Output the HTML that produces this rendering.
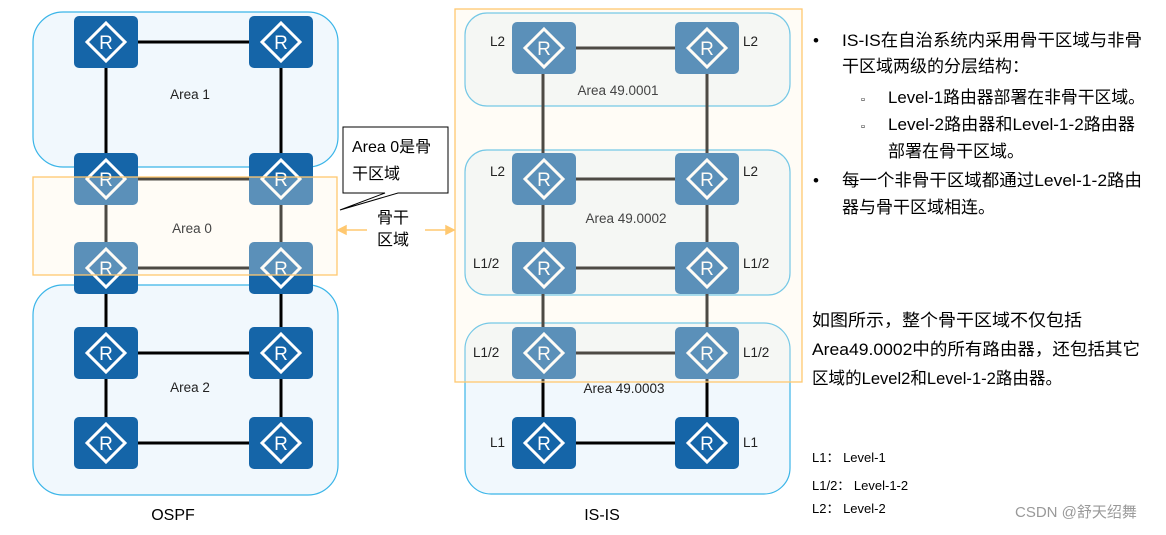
<!DOCTYPE html>
<html><head><meta charset="utf-8"><style>
body{margin:0;background:#fff;}
svg text{font-family:"Liberation Sans","Noto Sans CJK SC",sans-serif;}
</style></head><body>
<svg width="1166" height="530" viewBox="0 0 1166 530" xmlns="http://www.w3.org/2000/svg">
<defs>
<g id="r">
<rect x="0" y="0" width="64" height="52" rx="5" fill="#1565a8"/>
<polygon points="32,7 51,26 32,45 13,26" fill="none" stroke="#fff" stroke-width="3"/>
<text x="32" y="33" font-size="19" fill="#fff" text-anchor="middle">R</text>
</g>
</defs>
<rect x="33" y="12" width="305" height="155" rx="30" fill="#f1f8fd" stroke="#3bb5e8" stroke-width="1.2"/>
<rect x="33" y="285" width="305" height="210" rx="30" fill="#f1f8fd" stroke="#3bb5e8" stroke-width="1.2"/>
<rect x="465" y="13" width="325" height="93" rx="22" fill="#f1f8fd" stroke="#3bb5e8" stroke-width="1.2"/>
<rect x="465" y="150" width="325" height="145" rx="22" fill="#f1f8fd" stroke="#3bb5e8" stroke-width="1.2"/>
<rect x="465" y="323" width="325" height="171" rx="26" fill="#f1f8fd" stroke="#3bb5e8" stroke-width="1.2"/>
<g stroke="#000" stroke-width="3">
<line x1="106" y1="42" x2="281" y2="42"/><line x1="106" y1="179" x2="281" y2="179"/>
<line x1="106" y1="268" x2="281" y2="268"/><line x1="106" y1="353" x2="281" y2="353"/><line x1="106" y1="443" x2="281" y2="443"/>
<line x1="106" y1="42" x2="106" y2="443"/><line x1="281" y1="42" x2="281" y2="443"/>
<line x1="543" y1="48" x2="707" y2="48"/><line x1="543" y1="179" x2="707" y2="179"/>
<line x1="543" y1="268" x2="707" y2="268"/><line x1="543" y1="353" x2="707" y2="353"/><line x1="543" y1="443" x2="707" y2="443"/>
<line x1="543" y1="48" x2="543" y2="443"/><line x1="707" y1="48" x2="707" y2="179"/>
<line x1="707" y1="179" x2="707" y2="268"/><line x1="707" y1="270" x2="707" y2="443"/>
</g>
<use href="#r" x="74" y="16"/><use href="#r" x="249" y="16"/>
<use href="#r" x="74" y="153"/><use href="#r" x="249" y="153"/>
<use href="#r" x="74" y="242"/><use href="#r" x="249" y="242"/>
<use href="#r" x="74" y="327"/><use href="#r" x="249" y="327"/>
<use href="#r" x="74" y="417"/><use href="#r" x="249" y="417"/>
<use href="#r" x="512" y="22"/><use href="#r" x="675" y="22"/>
<use href="#r" x="512" y="153"/><use href="#r" x="675" y="153"/>
<use href="#r" x="512" y="242"/><use href="#r" x="675" y="242"/>
<use href="#r" x="512" y="327"/><use href="#r" x="675" y="327"/>
<use href="#r" x="512" y="417"/><use href="#r" x="675" y="417"/>
<rect x="33" y="177" width="304" height="98" fill="rgba(255,245,225,0.3)" stroke="#ffc870" stroke-width="1.3"/>
<rect x="455" y="9" width="347" height="373" fill="rgba(255,245,225,0.3)" stroke="#ffc870" stroke-width="1.3"/>
<g font-size="13.5" fill="#222" text-anchor="middle">
<text x="190" y="99">Area 1</text>
<text x="192" y="233" fill="#444">Area 0</text>
<text x="190" y="392">Area 2</text>
<text x="618" y="95" fill="#444">Area 49.0001</text>
<text x="626" y="223" fill="#444">Area 49.0002</text>
<text x="624" y="393">Area 49.0003</text>
</g>
<g font-size="13.5" fill="#222">
<text x="490" y="46">L2</text><text x="743" y="46">L2</text>
<text x="490" y="176">L2</text><text x="743" y="176">L2</text>
<text x="473" y="268">L1/2</text><text x="743" y="268">L1/2</text>
<text x="473" y="357">L1/2</text><text x="743" y="357">L1/2</text>
<text x="490" y="447">L1</text><text x="743" y="447">L1</text>
</g>
<text x="173" y="520" font-size="16" fill="#000" text-anchor="middle">OSPF</text>
<text x="602" y="520" font-size="16" fill="#000" text-anchor="middle">IS-IS</text>
<polygon points="343,127 448,127 448,193 398,193 340,210 385,193 343,193" fill="#fff" stroke="#000" stroke-width="1"/>
<text x="352" y="152" font-size="16" fill="#000">Area 0是骨</text>
<text x="352" y="179" font-size="16" fill="#000">干区域</text>
<text x="393" y="223" font-size="16" fill="#000" text-anchor="middle">骨干</text>
<text x="393" y="245" font-size="16" fill="#000" text-anchor="middle">区域</text>
<g stroke="#ffc870" stroke-width="1.5" fill="#ffc870">
<line x1="340" y1="230" x2="367" y2="230"/><line x1="425" y1="230" x2="452" y2="230"/>
<polygon points="338,230 346,226 346,234"/><polygon points="454,230 446,226 446,234"/>
</g>
<g font-size="17" fill="#000">
<text x="813" y="46">•</text>
<text x="842" y="46" textLength="300" lengthAdjust="spacingAndGlyphs">IS-IS在自治系统内采用骨干区域与非骨</text>
<text x="842" y="72">干区域两级的分层结构：</text>
<text x="861" y="103" font-size="11">▫</text>
<text x="888" y="103" textLength="257" lengthAdjust="spacingAndGlyphs">Level-1路由器部署在非骨干区域。</text>
<text x="861" y="130" font-size="11">▫</text>
<text x="888" y="130" textLength="247" lengthAdjust="spacingAndGlyphs">Level-2路由器和Level-1-2路由器</text>
<text x="888" y="157">部署在骨干区域。</text>
<text x="813" y="186">•</text>
<text x="842" y="186" textLength="300" lengthAdjust="spacingAndGlyphs">每一个非骨干区域都通过Level-1-2路由</text>
<text x="842" y="213">器与骨干区域相连。</text>
<text x="812" y="326" textLength="270" lengthAdjust="spacingAndGlyphs">如图所示，整个骨干区域不仅包括</text>
<text x="812" y="355" textLength="328" lengthAdjust="spacingAndGlyphs">Area49.0002中的所有路由器，还包括其它</text>
<text x="812" y="384" textLength="250" lengthAdjust="spacingAndGlyphs">区域的Level2和Level-1-2路由器。</text>
</g>
<g font-size="13" fill="#000">
<text x="812" y="462">L1：  Level-1</text>
<text x="812" y="490">L1/2：  Level-1-2</text>
<text x="812" y="513">L2：  Level-2</text>
</g>
<text x="1015" y="517" font-size="15" fill="#999">CSDN @舒天绍舞</text>
</svg>
</body></html>
